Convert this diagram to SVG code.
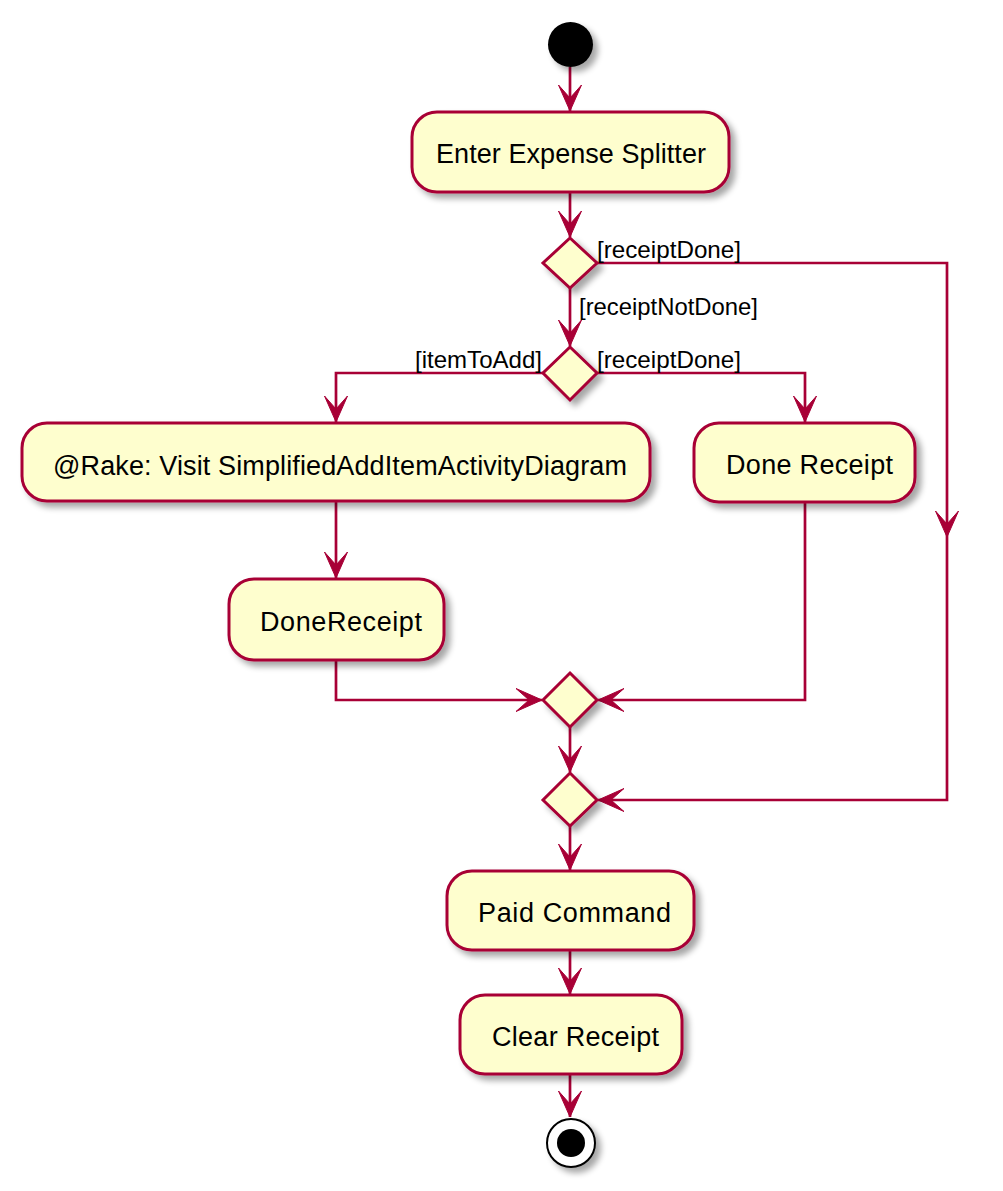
<svg xmlns="http://www.w3.org/2000/svg" width="1003" height="1191" viewBox="0 0 1003 1191">
<style>
.box{fill:#FEFECE;stroke:#A80036;stroke-width:3;filter:url(#sh)}
.dia{fill:#FEFECE;stroke:#A80036;stroke-width:3;filter:url(#sh)}
.t{font-family:"Liberation Sans",Arial,sans-serif;font-size:27px;fill:#000}
.lbl{font-family:"Liberation Sans",Arial,sans-serif;font-size:24px;fill:#000}
.c{fill:none;stroke:#A80036;stroke-width:2.7;marker-end:url(#arr)}
</style>
<defs>
<filter id="sh" x="-20%" y="-20%" width="150%" height="150%">
<feGaussianBlur in="SourceAlpha" stdDeviation="3" result="b"/>
<feOffset in="b" dx="5" dy="5" result="o"/>
<feComponentTransfer in="o" result="s"><feFuncA type="linear" slope="0.35"/></feComponentTransfer>
<feMerge><feMergeNode in="s"/><feMergeNode in="SourceGraphic"/></feMerge>
</filter>
<marker id="arr" viewBox="-28 -14 30 28" markerWidth="30" markerHeight="28" refX="0" refY="0" orient="auto" markerUnits="userSpaceOnUse">
<path d="M0,0 L-26,-11.5 L-13,0 L-26,11.5 Z" fill="#A80036" stroke="#A80036" stroke-width="1"/>
</marker>
</defs>
<g id="connectors">
<path class="c" d="M570,67 V111"/>
<path class="c" d="M570,192 V237"/>
<path class="c" d="M597,263 H947 V537"/>
<path class="c" d="M947,537 V800 H598"/>
<path class="c" d="M570,288 V346"/>
<path class="c" d="M543,373 H336 V422"/>
<path class="c" d="M597,373 H805 V422"/>
<path class="c" d="M336,501 V578"/>
<path class="c" d="M336,660 V700 H542"/>
<path class="c" d="M805,502 V700 H598"/>
<path class="c" d="M570,727 V772"/>
<path class="c" d="M570,826 V870"/>
<path class="c" d="M570,950 V994"/>
<path class="c" d="M570,1074 V1117"/>
</g>
<g id="labels">
<text class="lbl" x="597" y="258" textLength="144" lengthAdjust="spacingAndGlyphs">[receiptDone]</text>
<text class="lbl" x="579" y="315" textLength="179" lengthAdjust="spacingAndGlyphs">[receiptNotDone]</text>
<text class="lbl" x="415" y="368" textLength="127" lengthAdjust="spacingAndGlyphs">[itemToAdd]</text>
<text class="lbl" x="597" y="368" textLength="144" lengthAdjust="spacingAndGlyphs">[receiptDone]</text>
</g>
<g id="start"><circle cx="570.5" cy="44.5" r="22.5" fill="#000" filter="url(#sh)"/></g>
<g id="enter"><rect class="box" x="412" y="112" width="317" height="80" rx="25"/><text class="t" x="436" y="163" textLength="270" lengthAdjust="spacing">Enter Expense Splitter</text></g>
<g id="d1"><path class="dia" d="M570,238 L597,263 L570,288 L543,263 Z"/></g>
<g id="d2"><path class="dia" d="M570,347 L597,373 L570,400 L543,373 Z"/></g>
<g id="rake"><rect class="box" x="22" y="423" width="628" height="78" rx="25"/><text class="t" x="53" y="475" textLength="574" lengthAdjust="spacing">@Rake: Visit SimplifiedAddItemActivityDiagram</text></g>
<g id="doneReceipt2"><rect class="box" x="694" y="423" width="221" height="79" rx="25"/><text class="t" x="726" y="474" textLength="167" lengthAdjust="spacing">Done Receipt</text></g>
<g id="doneReceipt1"><rect class="box" x="229" y="579" width="215" height="81" rx="25"/><text class="t" x="260" y="631" textLength="162" lengthAdjust="spacing">DoneReceipt</text></g>
<g id="d3"><path class="dia" d="M570,673 L597,700 L570,727 L543,700 Z"/></g>
<g id="d4"><path class="dia" d="M570,773 L597,800 L570,826 L543,800 Z"/></g>
<g id="paid"><rect class="box" x="447" y="871" width="247" height="79" rx="25"/><text class="t" x="478" y="922" textLength="193" lengthAdjust="spacing">Paid Command</text></g>
<g id="clear"><rect class="box" x="460" y="995" width="222" height="79" rx="25"/><text class="t" x="492" y="1046" textLength="167" lengthAdjust="spacing">Clear Receipt</text></g>
<g id="end"><circle cx="571" cy="1143" r="24" fill="#fff" stroke="#000" stroke-width="2" filter="url(#sh)"/><circle cx="571" cy="1143" r="14" fill="#000"/></g>
</svg>
